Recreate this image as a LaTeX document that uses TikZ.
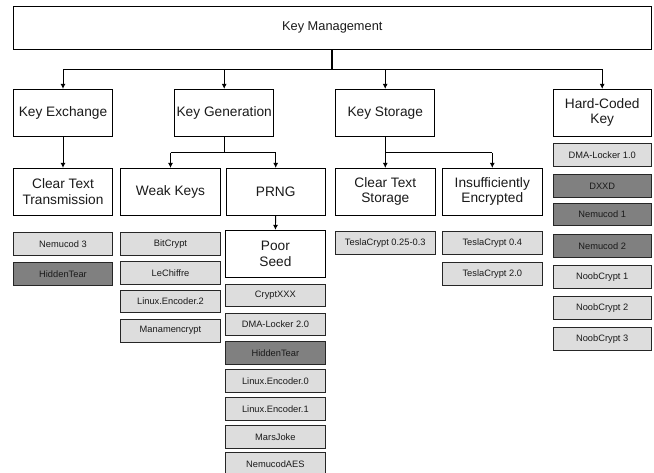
\documentclass[tikz,border=0pt]{standalone}
\usepackage{fontspec}
\setmainfont{Liberation Sans}
\usetikzlibrary{arrows.meta}
\definecolor{lightbox}{HTML}{DDDDDD}
\definecolor{darkbox}{HTML}{808080}
\definecolor{txt}{HTML}{1A1A1A}
\begin{document}
\begin{tikzpicture}[x=1pt,y=-1pt,
  bigbox/.style={draw=black,line width=0.9pt,fill=white,inner sep=0pt,
    minimum width=99.4pt,minimum height=46.7pt,align=center,text=txt,
    font=\fontsize{13.7}{15.5}\selectfont},
  itembox/.style={draw=black!85,line width=1pt,inner sep=0pt,
    minimum width=99.4pt,minimum height=22.8pt,text=txt,
    font=\fontsize{9.3}{11}\selectfont},
  lite/.style={itembox,fill=lightbox},
  dark/.style={itembox,fill=darkbox},
  conn/.style={draw=black,line width=0.9pt},
  arr/.style={conn,-{Latex[length=5pt,width=5pt]}}
]
\useasboundingbox (0,0) rectangle (654,473);

% top
\node[draw=black,line width=0.9pt,inner sep=0pt,minimum width=638pt,minimum height=43pt,
  font=\fontsize{12.8}{15}\selectfont,text=txt] (km) at (332.3,27.5) {Key Management};

% level 2
\node[bigbox] (ke) at (63,112.7) {Key Exchange};
\node[bigbox] (kg) at (224.2,112.7) {Key Generation};
\node[bigbox] (ks) at (385.2,112.7) {Key Storage};
\node[bigbox,minimum width=98.3pt] (hc) at (602.2,112.7) {Hard-Coded\\Key};

% level 3
\node[bigbox] (ctt) at (63,191.7) {Clear Text\\Transmission};
\node[bigbox] (wk) at (170.5,191.7) {Weak Keys};
\node[bigbox] (prng) at (275.7,191.7) {PRNG};
\node[bigbox] (cts) at (385.3,191.7) {Clear Text\\Storage};
\node[bigbox] (ie) at (492.3,191.7) {Insufficiently\\Encrypted};
\node[bigbox] (ps) at (275.4,253.7) {Poor\\Seed};

% connectors
\coordinate (kmj) at (332.3,69.5);
\draw[conn,line width=1.8pt] (km.south) -- (kmj);
\draw[conn] (ke.north |- kmj) -- (hc.north |- kmj);
\draw[arr] (ke.north |- kmj) -- (ke.north);
\draw[arr] (kg.north |- kmj) -- (kg.north);
\draw[arr] (ks.north |- kmj) -- (ks.north);
\draw[arr] (hc.north |- kmj) -- (hc.north);

\draw[arr] (ke.south) -- (ctt.north);

\coordinate (kgj) at (224.2,152.7);
\draw[conn] (kg.south) -- (kgj);
\draw[conn] (wk.north |- kgj) -- (prng.north |- kgj);
\draw[arr] (wk.north |- kgj) -- (wk.north);
\draw[arr] (prng.north |- kgj) -- (prng.north);

\coordinate (ksj) at (385.2,152.7);
\draw[conn] (ks.south) -- (ksj);
\draw[conn] (cts.north |- ksj) -- (ie.north |- ksj);
\draw[arr] (cts.north |- ksj) -- (cts.north);
\draw[arr] (ie.north |- ksj) -- (ie.north);

\draw[arr] (prng.south) -- (ps.north);

% items: clear text transmission
\node[lite] (c1) at (63,244.2) {Nemucod 3};
\node[dark] (c2) at (63,274.2) {HiddenTear};

% weak keys
\node[lite] (w1) at (170.5,243.7) {BitCrypt};
\node[lite] (w2) at (170.5,272.8) {LeChiffre};
\node[lite] (w3) at (170.5,301.5) {Linux.Encoder.2};
\node[lite] (w4) at (170.5,330.7) {Manamencrypt};

% poor seed
\node[lite] (p1) at (275.4,295.5) {CryptXXX};
\node[lite] (p2) at (275.4,324.5) {DMA-Locker 2.0};
\node[dark] (p3) at (275.4,352.7) {HiddenTear};
\node[lite] (p4) at (275.4,380.8) {Linux.Encoder.0};
\node[lite] (p5) at (275.4,409.0) {Linux.Encoder.1};
\node[lite] (p6) at (275.4,437.3) {MarsJoke};
\node[lite] (p7) at (275.4,463.8) {NemucodAES};

% clear text storage
\node[lite] (s1) at (385.3,242.7) {TeslaCrypt 0.25-0.3};

% insufficiently encrypted
\node[lite] (i1) at (492.3,242.8) {TeslaCrypt 0.4};
\node[lite] (i2) at (492.3,273.8) {TeslaCrypt 2.0};

% hard-coded key
\node[lite,minimum width=98.3pt] (h1) at (602.2,155.3) {DMA-Locker 1.0};
\node[dark,minimum width=98.3pt] (h2) at (602.2,186.0) {DXXD};
\node[dark,minimum width=98.3pt] (h3) at (602.2,214.5) {Nemucod 1};
\node[dark,minimum width=98.3pt] (h4) at (602.2,246.2) {Nemucod 2};
\node[lite,minimum width=98.3pt] (h5) at (602.2,277.2) {NoobCrypt 1};
\node[lite,minimum width=98.3pt] (h6) at (602.2,307.8) {NoobCrypt 2};
\node[lite,minimum width=98.3pt] (h7) at (602.2,339.0) {NoobCrypt 3};
\end{tikzpicture}
\end{document}
